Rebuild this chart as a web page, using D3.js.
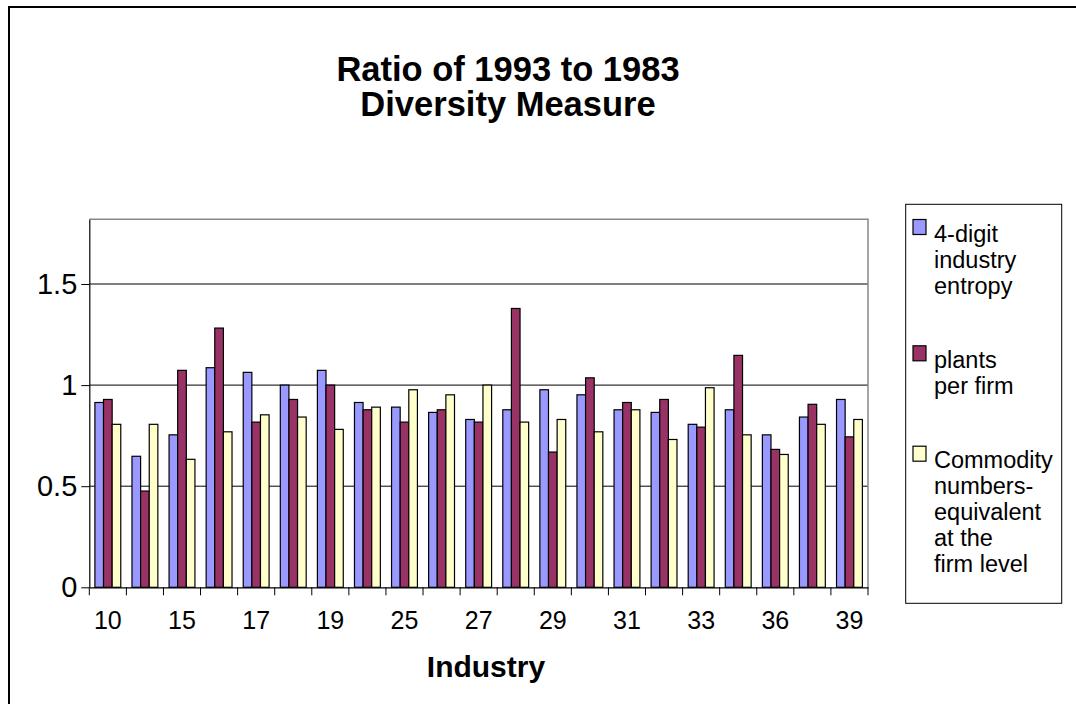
<!DOCTYPE html>
<html>
<head>
<meta charset="utf-8">
<script src="https://cdn.jsdelivr.net/npm/d3@7"></script>
<style>
  html, body { margin: 0; padding: 0; background: #fff; }
  svg { display: block; font-family: "Liberation Sans", Arial, sans-serif; }
</style>
</head>
<body>
<svg id="chart" width="1076" height="704"></svg>
<script>
// Industry codes (every other one is labelled on the axis)
const categories = ["10","13","15","16","17","18","19","20","25","26","27","28","29","30","31","32","33","34","36","37","39"];

// Ratio of 1993 to 1983 values per series
const entropy       = [0.914,0.648,0.754,1.086,1.063,1.000,1.073,0.914,0.891,0.865,0.830,0.878,0.977,0.952,0.878,0.865,0.806,0.878,0.754,0.842,0.929];
const plantsPerFirm = [0.929,0.476,1.073,1.282,0.817,0.929,1.000,0.878,0.817,0.878,0.817,1.379,0.669,1.036,0.914,0.929,0.792,1.147,0.682,0.905,0.744];
const commodity     = [0.806,0.806,0.633,0.769,0.853,0.842,0.781,0.891,0.977,0.952,1.000,0.817,0.830,0.769,0.878,0.731,0.987,0.754,0.657,0.806,0.830];

const seriesNames = ["entropy", "plantsPerFirm", "commodity"];
const seriesLabels = [
  ["4-digit", "industry", "entropy"],
  ["plants", "per firm"],
  ["Commodity", "numbers-", "equivalent", "at the", "firm level"]
];
const yTicks = [0, 0.5, 1, 1.5];
const yMax = 1.82;

const colors = { entropy: "#9999FF", plantsPerFirm: "#993366", commodity: "#FFFFCC" };
const seriesData = { entropy, plantsPerFirm, commodity };

const svg = d3.select("#chart");

// outer chart frame
svg.append("rect")
  .attr("x", 9).attr("y", 7).attr("width", 1200).attr("height", 900)
  .attr("fill", "#fff").attr("stroke", "#000").attr("stroke-width", 2);

const plot = { left: 89.3, right: 868, top: 219.3, bottom: 587.3 };

const x = d3.scaleBand().domain(categories).range([plot.left, plot.right]).padding(0);
const xInner = d3.scaleBand().domain(seriesNames).range([0, x.bandwidth()])
  .paddingInner(0).paddingOuter(0.65);
const y = d3.scaleLinear().domain([0, yMax]).range([plot.bottom, plot.top]);

// gridlines
svg.append("g").selectAll("line")
  .data(yTicks.filter(d => d > 0))
  .join("line")
  .attr("x1", plot.left).attr("x2", plot.right)
  .attr("y1", d => y(d)).attr("y2", d => y(d))
  .attr("stroke", "#000").attr("stroke-width", 1);

// plot area border (top and right)
svg.append("path")
  .attr("d", `M${plot.left},${plot.top}H${plot.right}V${plot.bottom}`)
  .attr("fill", "none").attr("stroke", "#888").attr("stroke-width", 1.5);

// bars
const groups = svg.append("g").selectAll("g")
  .data(categories)
  .join("g")
  .attr("transform", d => `translate(${x(d)},0)`);

groups.selectAll("rect")
  .data((c, i) => seriesNames.map(s => ({ s, v: seriesData[s][i] })))
  .join("rect")
  .attr("x", d => xInner(d.s))
  .attr("width", xInner.bandwidth())
  .attr("y", d => y(d.v))
  .attr("height", d => y(0) - y(d.v))
  .attr("fill", d => colors[d.s])
  .attr("stroke", "#000")
  .attr("stroke-width", 1.2);

// y axis
const yAxis = svg.append("g")
  .attr("transform", `translate(${plot.left},0)`)
  .call(d3.axisLeft(y).tickValues(yTicks).tickSize(8).tickSizeOuter(0).tickPadding(4).tickFormat(d3.format("")));
yAxis.select(".domain").attr("stroke", "#000").attr("stroke-width", 1.2);
yAxis.selectAll(".tick line").attr("stroke", "#000");
yAxis.selectAll("text").attr("font-size", 29).attr("fill", "#000")
  .attr("font-family", "Liberation Sans, Arial, sans-serif");

// x axis: labels on every other category
const xAxis = svg.append("g")
  .attr("transform", `translate(0,${plot.bottom})`)
  .call(d3.axisBottom(x).tickValues(categories.filter((c, i) => i % 2 === 0)).tickSize(0).tickSizeOuter(0));
xAxis.select(".domain").attr("stroke", "#000").attr("stroke-width", 1.2);
xAxis.selectAll("text")
  .attr("y", 42).attr("dy", null)
  .attr("font-size", 25).attr("fill", "#000")
  .attr("font-family", "Liberation Sans, Arial, sans-serif");

// tick marks at category boundaries
const boundaries = categories.map(c => x(c)).concat([x.range()[1]]);
xAxis.append("g").selectAll("line")
  .data(boundaries)
  .join("line")
  .attr("x1", d => d).attr("x2", d => d)
  .attr("y1", 0).attr("y2", 8)
  .attr("stroke", "#000").attr("stroke-width", 1);

// title
const title = svg.append("text")
  .attr("text-anchor", "middle")
  .attr("font-weight", "bold").attr("font-size", 34.5).attr("fill", "#000");
title.append("tspan").attr("x", 508).attr("y", 81).text("Ratio of 1993 to 1983");
title.append("tspan").attr("x", 508).attr("y", 115.7).text("Diversity Measure");

// x axis title
svg.append("text")
  .attr("x", 486).attr("y", 677)
  .attr("text-anchor", "middle")
  .attr("font-weight", "bold").attr("font-size", 30).attr("fill", "#000")
  .text("Industry");

// legend
const legend = svg.append("g");
legend.append("rect")
  .attr("x", 905.7).attr("y", 204.3).attr("width", 156).attr("height", 399)
  .attr("fill", "#fff").attr("stroke", "#000").attr("stroke-width", 1);

const lineH = 25.9, entryGap = 74.5;
let baseline = 241.7;
seriesNames.forEach((s, i) => {
  legend.append("rect")
    .attr("x", 913).attr("y", baseline - 22.2)
    .attr("width", 13).attr("height", 15)
    .attr("fill", colors[s]).attr("stroke", "#000").attr("stroke-width", 1.2);
  const t = legend.append("text").attr("font-size", 23.5).attr("fill", "#000");
  seriesLabels[i].forEach((line, j) => {
    t.append("tspan").attr("x", 934).attr("y", baseline + j * lineH).text(line);
  });
  baseline += (seriesLabels[i].length - 1) * lineH + entryGap;
});
</script>
</body>
</html>
